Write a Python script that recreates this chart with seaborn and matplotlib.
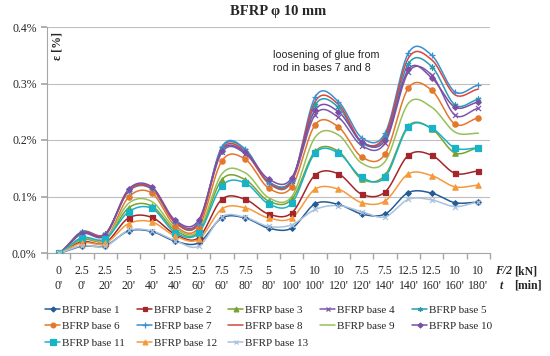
import matplotlib
matplotlib.use("Agg")
import matplotlib.pyplot as plt
from matplotlib.lines import Line2D
from matplotlib.ticker import FuncFormatter
import seaborn as sns
import numpy as np
import pandas as pd

# category labels on the x axis
force = ["0", "2.5", "2.5", "5", "5", "2.5", "2.5", "7.5", "7.5", "5", "5",
         "10", "10", "7.5", "7.5", "12.5", "12.5", "10", "10"]
time = ["0'", "0'", "20'", "20'", "40'", "40'", "60'", "60'", "80'", "80'", "100'",
        "100'", "120'", "120'", "140'", "140'", "160'", "160'", "180'"]

# strain [%]
base1 = [0, .012, .013, .039, .038, .021, .018, .062, .062, .044, .044, .087, .086, .069, .069, .107, .106, .089, .090]
base2 = [0, .020, .018, .062, .063, .033, .027, .095, .095, .069, .071, .138, .140, .104, .108, .173, .173, .141, .145]
base3 = [0, .024, .023, .080, .083, .040, .037, .130, .130, .092, .095, .180, .180, .131, .138, .225, .220, .177, .186]
base4 = [0, .034, .031, .110, .114, .056, .054, .178, .176, .126, .128, .245, .240, .190, .195, .320, .315, .244, .256]
base5 = [0, .037, .033, .111, .115, .055, .053, .186, .183, .126, .130, .262, .258, .195, .205, .335, .330, .262, .272]
base6 = [0, .027, .024, .099, .106, .048, .045, .163, .166, .115, .117, .227, .223, .170, .175, .292, .288, .228, .239]
base7 = [0, .038, .034, .109, .113, .054, .052, .188, .184, .124, .127, .276, .268, .204, .212, .354, .350, .285, .297]
base8 = [0, .037, .034, .110, .114, .054, .052, .183, .180, .124, .128, .268, .263, .197, .208, .345, .342, .280, .290]
base9 = [0, .026, .025, .088, .091, .044, .040, .140, .142, .098, .100, .205, .209, .159, .162, .265, .258, .214, .212]
base10 = [0, .036, .032, .113, .117, .058, .058, .181, .178, .131, .133, .253, .250, .197, .200, .325, .310, .258, .267]
base11 = [0, .027, .025, .073, .079, .036, .035, .119, .124, .087, .088, .177, .177, .134, .134, .223, .221, .186, .186]
base12 = [0, .018, .017, .052, .055, .030, .024, .078, .080, .062, .062, .113, .113, .089, .092, .140, .137, .117, .120]
base13 = [0, .013, .012, .040, .039, .022, .012, .064, .063, .047, .050, .077, .084, .073, .064, .095, .094, .082, .090]

names = ["BFRP base %d" % i for i in range(1, 14)]
series = [base1, base2, base3, base4, base5, base6, base7, base8, base9,
          base10, base11, base12, base13]
colors = ["#245c96", "#a3262a", "#78a22f", "#7e57a8", "#2a9cb0", "#e3782b",
          "#3c8fd0", "#d9453f", "#97c05a", "#7b4fa5", "#19b3c8", "#f59a3c", "#a9c1dd"]
markers = ["D", "s", "^", "x", (6, 2, 0), "o", "+", None, None, "D", "s", "^", "x"]
msizes = [2.8, 3.6, 3.8, 3.6, 3.6, 3.8, 4.4, 0, 0, 2.8, 4.2, 3.8, 3.6]


def smooth(y, n=24):
    # excel style smoothed line (bezier through the points)
    y = np.asarray(y, float)
    x = np.arange(len(y), dtype=float)
    xs, ys = [], []
    for i in range(len(y) - 1):
        y0 = y[i - 1] if i > 0 else y[i]
        y3 = y[i + 2] if i + 2 < len(y) else y[i + 1]
        c1 = y[i] + (y[i + 1] - y0) / 6
        c2 = y[i + 1] - (y3 - y[i]) / 6
        t = np.linspace(0, 1, n, endpoint=False)
        xs.append(x[i] + t)
        ys.append((1 - t) ** 3 * y[i] + 3 * (1 - t) ** 2 * t * c1
                  + 3 * (1 - t) * t ** 2 * c2 + t ** 3 * y[i + 1])
    xs.append([x[-1]])
    ys.append([y[-1]])
    return np.concatenate(xs), np.concatenate(ys)


sns.set_theme(style="white")
plt.rcParams['font.family'] = ['Liberation Serif', 'DejaVu Serif']

fig = plt.figure(figsize=(5.5, 3.56), dpi=100)
ax = fig.add_axes([47 / 550, 103 / 356, 443 / 550, 226 / 356])

idx = np.arange(len(force))
for vals, c, m, ms, nm in zip(series, colors, markers, msizes, names):
    xs, ys = smooth(vals)
    sns.lineplot(x=xs, y=ys, color=c, lw=1.1, ax=ax, sort=False, estimator=None)
    if m is not None:
        sns.scatterplot(x=idx, y=vals, marker=m, color=c, s=ms ** 2,
                        edgecolor=c, linewidth=0.9, ax=ax, zorder=3)

ax.set_xlim(-0.5, len(force) - 0.5)
ax.set_ylim(0, 0.4)
ax.set_yticks([0, 0.1, 0.2, 0.3, 0.4])
ax.yaxis.set_major_formatter(FuncFormatter(lambda v, p: "%.1f%%" % v))
ax.set_xticks(idx)
ax.set_xticklabels([f + "\n" + t for f, t in zip(force, time)], linespacing=1.3)
ax.set_xticks(np.arange(-0.5, len(force), 1), minor=True)
ax.tick_params(axis='x', which='major', length=0, pad=9, labelsize=8.5)
ax.tick_params(axis='x', which='minor', length=4, color='#a6a6a6', direction='out', bottom=True)
ax.tick_params(axis='y', length=4, color='#a6a6a6', direction='out', left=True, labelsize=8.5)
ax.yaxis.grid(True, color='#bfbfbf', lw=0.8)
for s in ['top', 'right']:
    ax.spines[s].set_visible(False)
for s in ['left', 'bottom']:
    ax.spines[s].set_color('#a6a6a6')
    ax.spines[s].set_linewidth(0.8)
ax.set_xlabel('')
ax.set_ylabel('')

fig.text(278 / 550, 1 - 12 / 356, "BFRP φ 10 mm", ha='center', va='center',
         fontsize=10.5, fontweight='bold')
fig.text(58 / 550, 1 - 46 / 356, "ε [%]", rotation=90, ha='center', va='center',
         fontsize=8.5, fontweight='bold')
fig.text(273 / 550, 1 - 50 / 356, "loosening of glue from\nrod in bases 7 and 8",
         ha='left', va='top', fontsize=7.7, family='Liberation Sans', linespacing=1.35)
fig.text(495 / 550, 1 - 271 / 356, "F/2", ha='left', va='center', fontsize=8.5,
         fontweight='bold', style='italic')
fig.text(514 / 550, 1 - 271 / 356, "[kN]", ha='left', va='center', fontsize=8.5,
         fontweight='bold')
fig.text(500 / 550, 1 - 286 / 356, "t", ha='left', va='center', fontsize=8.5,
         fontweight='bold', style='italic')
fig.text(514 / 550, 1 - 286 / 356, "[min]", ha='left', va='center', fontsize=8.5,
         fontweight='bold')

# legend: one block per column, laid out row by row like the original
handles = [Line2D([], [], color=c, lw=1.1, marker=m if m is not None else None,
                  markersize=ms * 0.9, markeredgecolor=c, markeredgewidth=0.9)
           for c, m, ms in zip(colors, markers, msizes)]
col_x = [45, 137, 228, 320, 412]
for k, x0 in enumerate(col_x):
    ids = list(range(k, 13, 5))
    fig.legend([handles[i] for i in ids], [names[i] for i in ids],
               loc='upper left', bbox_to_anchor=(x0 / 550, 1 - 305 / 356), frameon=False,
               fontsize=8, handlelength=1.35, handletextpad=0.15,
               labelspacing=0.6, borderaxespad=0, borderpad=0)

fig.savefig("out.png", dpi=100)
